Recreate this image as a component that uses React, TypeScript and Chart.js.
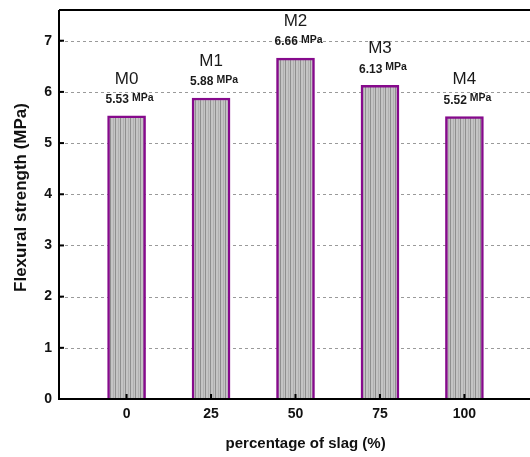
import React, { useEffect, useRef } from "react";
import { Chart, registerables } from "chart.js";

Chart.register(...registerables);

const slagPercent = [0, 25, 50, 75, 100];
const strength = [5.53, 5.88, 6.66, 6.13, 5.52];
const mixNames = ["M0", "M1", "M2", "M3", "M4"];
const yTicks = [0, 1, 2, 3, 4, 5, 6, 7];
const xTicks = [0, 25, 50, 75, 100];
const unit = "MPa";
const xTitle = "percentage of slag (%)";
const yTitle = "Flexural strength (MPa)";

const FONT = "'Liberation Sans', Arial, sans-serif";

function makePattern(): CanvasPattern | string {
  const c = document.createElement("canvas");
  c.width = 5;
  c.height = 4;
  const g = c.getContext("2d");
  if (!g) return "#c0c0c0";
  g.fillStyle = "#c4c4c4";
  g.fillRect(0, 0, 5, 4);
  g.fillStyle = "#8e8e8e";
  g.fillRect(0, 0, 1, 4);
  g.fillStyle = "#b0b0b0";
  g.fillRect(3, 0, 1, 4);
  const p = g.createPattern(c, "repeat");
  return p || "#c0c0c0";
}

const framePlugin = {
  id: "frame",
  beforeDatasetsDraw(chart: any) {
    const { ctx, chartArea } = chart;
    const y = chart.scales.y;
    ctx.save();
    ctx.strokeStyle = "#9a9a9a";
    ctx.lineWidth = 1;
    ctx.setLineDash([3, 3]);
    for (const v of yTicks) {
      if (v === 0) continue;
      const py = Math.round(y.getPixelForValue(v)) + 0.5;
      ctx.beginPath();
      ctx.moveTo(chartArea.left, py);
      ctx.lineTo(chartArea.right, py);
      ctx.stroke();
    }
    ctx.restore();
  },
  afterDatasetsDraw(chart: any) {
    const { ctx, chartArea } = chart;
    const x = chart.scales.x;
    const y = chart.scales.y;
    ctx.save();
    const meta = chart.getDatasetMeta(0);
    meta.data.forEach((el: any, i: number) => {
      const cx = el.x;
      const top = el.y;
      ctx.fillStyle = "#1a1a1a";
      ctx.textAlign = "center";
      ctx.textBaseline = "middle";
      ctx.font = `17px ${FONT}`;
      ctx.fillText(mixNames[i], cx, top - 37);
      const num = strength[i].toFixed(2);
      ctx.font = `bold 12px ${FONT}`;
      const w1 = ctx.measureText(num).width;
      ctx.font = `bold 10.5px ${FONT}`;
      const w2 = ctx.measureText(unit).width;
      const gap = 3;
      const total = w1 + gap + w2;
      const sx = cx - total / 2 + 3;
      ctx.textAlign = "left";
      ctx.font = `bold 12px ${FONT}`;
      ctx.fillText(num, sx, top - 16);
      ctx.font = `bold 10.5px ${FONT}`;
      ctx.fillText(unit, sx + w1 + gap, top - 18);
    });
    ctx.strokeStyle = "#000";
    ctx.lineWidth = 2;
    ctx.setLineDash([]);
    ctx.beginPath();
    ctx.moveTo(chartArea.left, chartArea.top);
    ctx.lineTo(chartArea.left, chartArea.bottom);
    ctx.lineTo(chartArea.right, chartArea.bottom);
    ctx.moveTo(chartArea.left, chartArea.top);
    ctx.lineTo(chartArea.right, chartArea.top);
    ctx.lineTo(chartArea.right, chartArea.bottom);
    ctx.stroke();
    for (const v of yTicks) {
      if (v === 0) continue;
      const py = y.getPixelForValue(v);
      ctx.beginPath();
      ctx.moveTo(chartArea.left, py);
      ctx.lineTo(chartArea.left + 5, py);
      ctx.stroke();
    }
    for (const v of xTicks) {
      const px = x.getPixelForValue(v);
      ctx.beginPath();
      ctx.moveTo(px, chartArea.bottom);
      ctx.lineTo(px, chartArea.bottom - 5);
      ctx.stroke();
    }
    // axis titles
    ctx.fillStyle = "#111";
    ctx.textAlign = "center";
    ctx.textBaseline = "middle";
    ctx.font = `bold 15px ${FONT}`;
    ctx.fillText(xTitle, x.getPixelForValue(53), chartArea.bottom + 45);
    ctx.save();
    ctx.translate(21, (chartArea.top + chartArea.bottom) / 2 - 7);
    ctx.rotate(-Math.PI / 2);
    ctx.font = `bold 17px ${FONT}`;
    ctx.fillText(yTitle, 0, 0);
    ctx.restore();
    ctx.restore();
  },
};

export default function App() {
  const ref = useRef<HTMLCanvasElement | null>(null);
  useEffect(() => {
    if (!ref.current) return;
    const pattern = makePattern();
    const chart = new Chart(ref.current, {
      type: "bar",
      data: {
        datasets: [
          {
            data: slagPercent.map((p, i) => ({ x: p, y: strength[i] })),
            backgroundColor: pattern as any,
            borderColor: "#860a8c",
            borderWidth: 2.5,
            borderSkipped: "bottom",
            barThickness: 38,
          },
        ],
      },
      options: {
        animation: false,
        responsive: false,
        maintainAspectRatio: false,
        layout: { padding: { top: 10, left: 0, right: 8, bottom: 0 } },
        plugins: { legend: { display: false }, tooltip: { enabled: false } },
        scales: {
          x: {
            type: "linear",
            offset: false,
            min: -20,
            max: 120,
            afterBuildTicks: (s: any) => {
              s.ticks = xTicks.map((v) => ({ value: v }));
            },
            afterFit: (s: any) => {
              s.height = 58;
              s.paddingLeft = 0;
              s.paddingRight = 0;
            },
            grid: { display: false, drawTicks: false, offset: false },
            border: { display: false },
            ticks: {
              padding: 7,
              color: "#111",
              font: { family: FONT, size: 14, weight: "bold" },
              maxRotation: 0,
            },
            title: { display: false },
          },
          y: {
            min: 0,
            max: 7.6,
            afterBuildTicks: (s: any) => {
              s.ticks = yTicks.map((v) => ({ value: v }));
            },
            afterFit: (s: any) => {
              s.width = 59;
              s.paddingTop = 0;
              s.paddingBottom = 0;
            },
            grid: { display: false, drawTicks: false },
            border: { display: false },
            ticks: {
              padding: 7,
              color: "#111",
              font: { family: FONT, size: 14, weight: "bold" },
            },
            title: { display: false },
          },
        },
      },
      plugins: [framePlugin],
    } as any);
    return () => chart.destroy();
  }, []);
  return (
    <div
      style={{
        position: "fixed",
        left: 0,
        top: 0,
        width: 530,
        height: 457,
        overflow: "hidden",
        background: "#fff",
      }}
    >
      <canvas ref={ref} width={540} height={457} style={{ display: "block" }} />
    </div>
  );
}
